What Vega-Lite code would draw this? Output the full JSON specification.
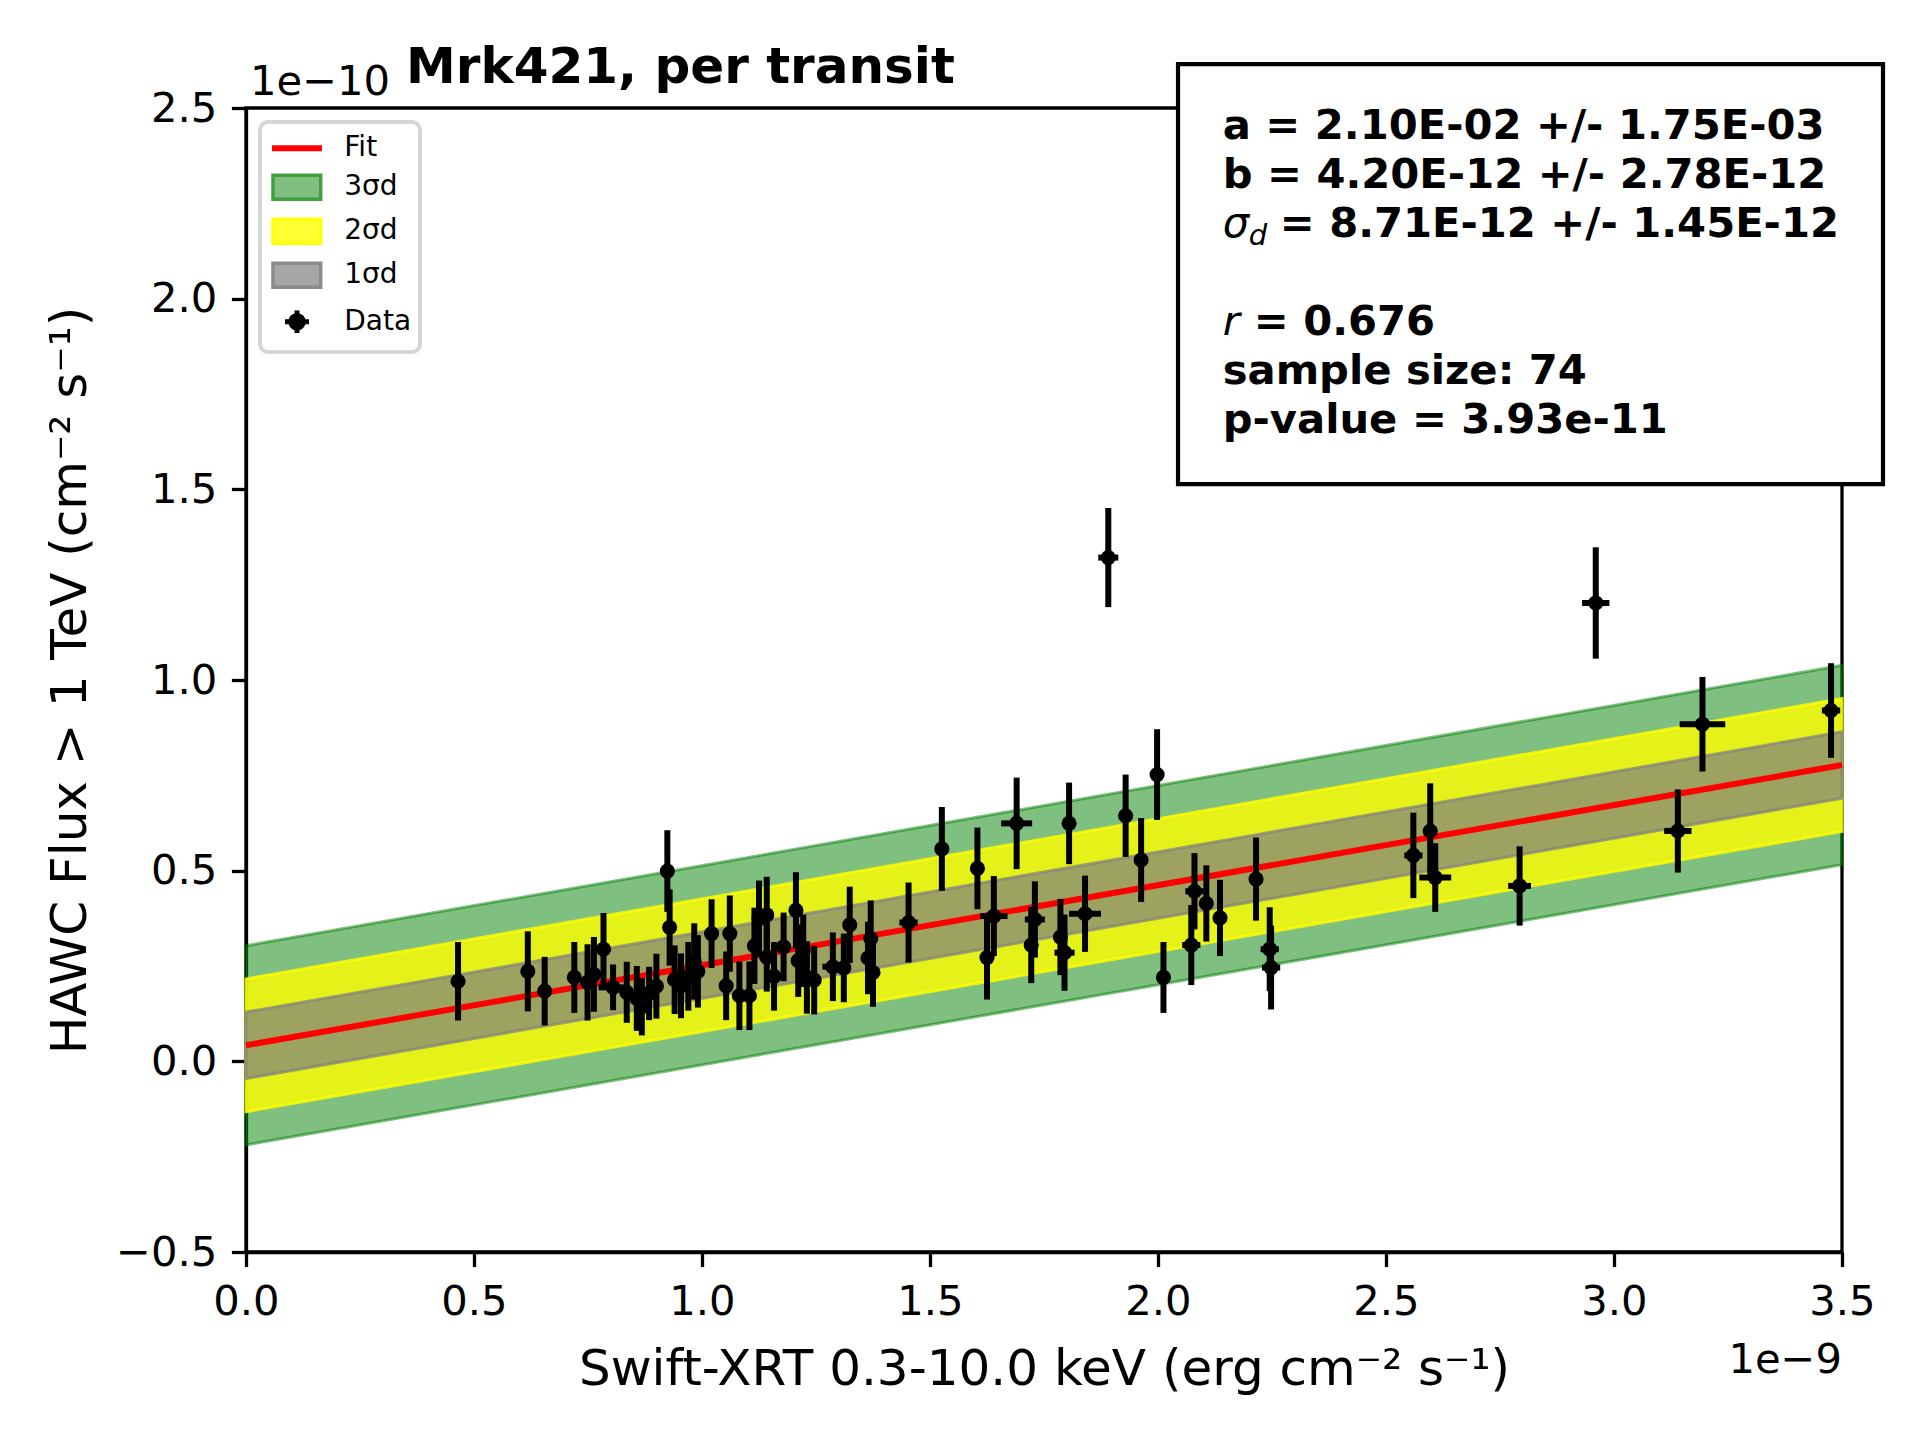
{
  "$schema": "https://vega.github.io/schema/vega-lite/v6.json",
  "width": 1596,
  "height": 1144,
  "autosize": {"type": "none"},
  "padding": {"left": 246, "top": 108, "right": 78, "bottom": 188},
  "background": "white",
  "title": {
    "text": "Mrk421, per transit",
    "anchor": "start",
    "frame": "group",
    "dx": 160,
    "dy": 56,
    "offset": 25,
    "font": "DejaVu Sans",
    "fontSize": 50,
    "fontWeight": "bold",
    "color": "black"
  },
  "datasets": {
    "bands": [
      {"x": 0, "fit": 0.042, "lo1": -0.0451, "hi1": 0.1291, "lo2": -0.1322, "hi2": 0.2162, "lo3": -0.2193, "hi3": 0.3033},
      {"x": 3.5, "fit": 0.777, "lo1": 0.6899, "hi1": 0.8641, "lo2": 0.6028, "hi2": 0.9512, "lo3": 0.5157, "hi3": 1.0383}
    ],
    "points": [
      {"x": 0.465, "y": 0.210, "ex": 0.006, "ey": 0.103},
      {"x": 0.618, "y": 0.236, "ex": 0.006, "ey": 0.105},
      {"x": 0.655, "y": 0.184, "ex": 0.006, "ey": 0.090},
      {"x": 0.720, "y": 0.220, "ex": 0.006, "ey": 0.093},
      {"x": 0.749, "y": 0.207, "ex": 0.008, "ey": 0.100},
      {"x": 0.763, "y": 0.228, "ex": 0.008, "ey": 0.098},
      {"x": 0.784, "y": 0.294, "ex": 0.008, "ey": 0.095},
      {"x": 0.805, "y": 0.194, "ex": 0.032, "ey": 0.060},
      {"x": 0.835, "y": 0.181, "ex": 0.008, "ey": 0.080},
      {"x": 0.857, "y": 0.165, "ex": 0.008, "ey": 0.085},
      {"x": 0.868, "y": 0.143, "ex": 0.008, "ey": 0.075},
      {"x": 0.884, "y": 0.178, "ex": 0.008, "ey": 0.070},
      {"x": 0.900, "y": 0.197, "ex": 0.008, "ey": 0.085},
      {"x": 0.924, "y": 0.499, "ex": 0.008, "ey": 0.107},
      {"x": 0.929, "y": 0.351, "ex": 0.008, "ey": 0.100},
      {"x": 0.940, "y": 0.214, "ex": 0.010, "ey": 0.090},
      {"x": 0.954, "y": 0.198, "ex": 0.010, "ey": 0.085},
      {"x": 0.970, "y": 0.223, "ex": 0.010, "ey": 0.090},
      {"x": 0.983, "y": 0.262, "ex": 0.010, "ey": 0.100},
      {"x": 0.991, "y": 0.236, "ex": 0.010, "ey": 0.095},
      {"x": 1.021, "y": 0.335, "ex": 0.010, "ey": 0.090},
      {"x": 1.053, "y": 0.198, "ex": 0.010, "ey": 0.090},
      {"x": 1.061, "y": 0.335, "ex": 0.010, "ey": 0.100},
      {"x": 1.082, "y": 0.172, "ex": 0.010, "ey": 0.090},
      {"x": 1.104, "y": 0.172, "ex": 0.010, "ey": 0.090},
      {"x": 1.115, "y": 0.303, "ex": 0.010, "ey": 0.100},
      {"x": 1.125, "y": 0.374, "ex": 0.010, "ey": 0.100},
      {"x": 1.142, "y": 0.384, "ex": 0.010, "ey": 0.100},
      {"x": 1.142, "y": 0.273, "ex": 0.010, "ey": 0.090},
      {"x": 1.158, "y": 0.223, "ex": 0.010, "ey": 0.090},
      {"x": 1.179, "y": 0.300, "ex": 0.010, "ey": 0.090},
      {"x": 1.206, "y": 0.396, "ex": 0.012, "ey": 0.100},
      {"x": 1.211, "y": 0.264, "ex": 0.012, "ey": 0.095},
      {"x": 1.222, "y": 0.290, "ex": 0.012, "ey": 0.095},
      {"x": 1.230, "y": 0.220, "ex": 0.012, "ey": 0.095},
      {"x": 1.246, "y": 0.213, "ex": 0.012, "ey": 0.090},
      {"x": 1.287, "y": 0.248, "ex": 0.023, "ey": 0.090},
      {"x": 1.311, "y": 0.245, "ex": 0.012, "ey": 0.090},
      {"x": 1.324, "y": 0.358, "ex": 0.012, "ey": 0.100},
      {"x": 1.364, "y": 0.271, "ex": 0.012, "ey": 0.095},
      {"x": 1.370, "y": 0.322, "ex": 0.012, "ey": 0.100},
      {"x": 1.375, "y": 0.233, "ex": 0.012, "ey": 0.090},
      {"x": 1.453, "y": 0.364, "ex": 0.020, "ey": 0.105},
      {"x": 1.526, "y": 0.557, "ex": 0.012, "ey": 0.110},
      {"x": 1.604, "y": 0.506, "ex": 0.012, "ey": 0.107},
      {"x": 1.625, "y": 0.272, "ex": 0.012, "ey": 0.110},
      {"x": 1.640, "y": 0.381, "ex": 0.030, "ey": 0.105},
      {"x": 1.690, "y": 0.624, "ex": 0.034, "ey": 0.120},
      {"x": 1.722, "y": 0.305, "ex": 0.012, "ey": 0.100},
      {"x": 1.730, "y": 0.372, "ex": 0.022, "ey": 0.100},
      {"x": 1.786, "y": 0.326, "ex": 0.012, "ey": 0.100},
      {"x": 1.795, "y": 0.285, "ex": 0.022, "ey": 0.100},
      {"x": 1.805, "y": 0.624, "ex": 0.012, "ey": 0.107},
      {"x": 1.840, "y": 0.387, "ex": 0.035, "ey": 0.100},
      {"x": 1.891, "y": 1.321, "ex": 0.022, "ey": 0.130},
      {"x": 1.929, "y": 0.644, "ex": 0.012, "ey": 0.108},
      {"x": 1.963, "y": 0.528, "ex": 0.012, "ey": 0.110},
      {"x": 1.998, "y": 0.752, "ex": 0.012, "ey": 0.119},
      {"x": 2.012, "y": 0.220, "ex": 0.012, "ey": 0.093},
      {"x": 2.073, "y": 0.305, "ex": 0.020, "ey": 0.105},
      {"x": 2.080, "y": 0.446, "ex": 0.020, "ey": 0.100},
      {"x": 2.106, "y": 0.414, "ex": 0.012, "ey": 0.100},
      {"x": 2.136, "y": 0.376, "ex": 0.015, "ey": 0.100},
      {"x": 2.215, "y": 0.478, "ex": 0.012, "ey": 0.109},
      {"x": 2.245, "y": 0.294, "ex": 0.020, "ey": 0.110},
      {"x": 2.248, "y": 0.246, "ex": 0.020, "ey": 0.110},
      {"x": 2.560, "y": 0.540, "ex": 0.020, "ey": 0.112},
      {"x": 2.597, "y": 0.604, "ex": 0.012, "ey": 0.125},
      {"x": 2.608, "y": 0.482, "ex": 0.035, "ey": 0.090},
      {"x": 2.793, "y": 0.460, "ex": 0.025, "ey": 0.104},
      {"x": 2.960, "y": 1.202, "ex": 0.030, "ey": 0.146},
      {"x": 3.140, "y": 0.604, "ex": 0.030, "ey": 0.109},
      {"x": 3.194, "y": 0.884, "ex": 0.050, "ey": 0.124},
      {"x": 3.476, "y": 0.920, "ex": 0.020, "ey": 0.124}
    ]
  },
  "data": {"name": "points"},
  "layer": [
    {
      "data": {"name": "bands"},
      "mark": {"type": "area", "fill": "green", "stroke": "green", "strokeWidth": 3, "fillOpacity": 0.5, "strokeOpacity": 0.5},
      "encoding": {
        "x": {
          "field": "x",
          "type": "quantitative",
          "title": "Swift-XRT 0.3-10.0 keV (erg cm⁻² s⁻¹)",
          "scale": {"domain": [0, 3.5], "nice": false, "zero": false},
          "axis": {
            "values": [0, 0.5, 1, 1.5, 2, 2.5, 3, 3.5],
            "format": ".1f",
            "labelFlush": false,
            "titlePadding": 22
          }
        },
        "y": {
          "field": "lo3",
          "type": "quantitative",
          "title": "HAWC Flux > 1 TeV (cm⁻² s⁻¹)",
          "scale": {"domain": [-0.5, 2.5], "nice": false, "zero": false},
          "axis": {
            "values": [-0.5, 0, 0.5, 1, 1.5, 2, 2.5],
            "format": ".1f",
            "labelFlush": false,
            "titlePadding": 20
          }
        },
        "y2": {"field": "hi3"}
      }
    },
    {
      "data": {"name": "bands"},
      "mark": {"type": "area", "fill": "yellow", "stroke": "yellow", "strokeWidth": 3, "fillOpacity": 0.8, "strokeOpacity": 0.8},
      "encoding": {
        "x": {"field": "x", "type": "quantitative", "title": "Swift-XRT 0.3-10.0 keV (erg cm⁻² s⁻¹)"},
        "y": {"field": "lo2", "type": "quantitative", "title": "HAWC Flux > 1 TeV (cm⁻² s⁻¹)"},
        "y2": {"field": "hi2"}
      }
    },
    {
      "data": {"name": "bands"},
      "mark": {"type": "area", "fill": "gray", "stroke": "gray", "strokeWidth": 3, "fillOpacity": 0.7, "strokeOpacity": 0.7},
      "encoding": {
        "x": {"field": "x", "type": "quantitative", "title": "Swift-XRT 0.3-10.0 keV (erg cm⁻² s⁻¹)"},
        "y": {"field": "lo1", "type": "quantitative", "title": "HAWC Flux > 1 TeV (cm⁻² s⁻¹)"},
        "y2": {"field": "hi1"}
      }
    },
    {
      "data": {"name": "bands"},
      "mark": {"type": "line", "color": "red", "strokeWidth": 6},
      "encoding": {
        "x": {"field": "x", "type": "quantitative", "title": "Swift-XRT 0.3-10.0 keV (erg cm⁻² s⁻¹)"},
        "y": {"field": "fit", "type": "quantitative", "title": "HAWC Flux > 1 TeV (cm⁻² s⁻¹)"}
      }
    },
    {
      "mark": {"type": "errorbar", "ticks": false, "thickness": 6, "color": "black"},
      "encoding": {
        "x": {"field": "x", "type": "quantitative", "title": "Swift-XRT 0.3-10.0 keV (erg cm⁻² s⁻¹)"},
        "y": {"field": "y", "type": "quantitative", "title": "HAWC Flux > 1 TeV (cm⁻² s⁻¹)"},
        "yError": {"field": "ey"}
      }
    },
    {
      "mark": {"type": "errorbar", "ticks": false, "thickness": 6, "color": "black"},
      "encoding": {
        "x": {"field": "x", "type": "quantitative", "title": "Swift-XRT 0.3-10.0 keV (erg cm⁻² s⁻¹)"},
        "xError": {"field": "ex"},
        "y": {"field": "y", "type": "quantitative", "title": "HAWC Flux > 1 TeV (cm⁻² s⁻¹)"}
      }
    },
    {
      "mark": {"type": "circle", "size": 230, "opacity": 1, "color": "black"},
      "encoding": {
        "x": {"field": "x", "type": "quantitative", "title": "Swift-XRT 0.3-10.0 keV (erg cm⁻² s⁻¹)"},
        "y": {"field": "y", "type": "quantitative", "title": "HAWC Flux > 1 TeV (cm⁻² s⁻¹)"}
      }
    },
    {
      "data": {"values": []},
      "mark": {"type": "point", "opacity": 1},
      "encoding": {
        "x": {"field": "x", "type": "quantitative", "title": "Swift-XRT 0.3-10.0 keV (erg cm⁻² s⁻¹)"},
        "y": {"field": "y", "type": "quantitative", "title": "HAWC Flux > 1 TeV (cm⁻² s⁻¹)"},
        "fill": {
          "field": "series",
          "type": "nominal",
          "scale": {
            "domain": ["Fit", "3σd", "2σd", "1σd", "Data"],
            "range": ["transparent", "#80bf80", "#ffff33", "#a6a6a6", "black"]
          },
          "legend": {"title": null, "orient": "top-left", "offset": 14}
        },
        "stroke": {
          "field": "series",
          "type": "nominal",
          "scale": {
            "domain": ["Fit", "3σd", "2σd", "1σd", "Data"],
            "range": ["red", "#40a040", "#ffff0a", "#8b8b8b", "black"]
          },
          "legend": {"title": null, "orient": "top-left", "offset": 14}
        },
        "strokeWidth": {
          "field": "series",
          "type": "nominal",
          "scale": {
            "type": "ordinal",
            "domain": ["Fit", "3σd", "2σd", "1σd", "Data"],
            "range": [6, 3.5, 3.5, 3.5, 5]
          },
          "legend": {"title": null, "orient": "top-left", "offset": 14}
        },
        "shape": {
          "field": "series",
          "type": "nominal",
          "scale": {
            "domain": ["Fit", "3σd", "2σd", "1σd", "Data"],
            "range": [
              "M-0.953,0H2.38",
              "M-0.887,-0.8H2.293V0.8H-0.887Z",
              "M-0.887,-0.8H2.293V0.8H-0.887Z",
              "M-0.887,-0.8H2.293V0.8H-0.887Z",
              "M-0.087,0H1.513M0.713,-0.75V0.75M0.293,0A0.42,0.42 0 1,0 1.133,0A0.42,0.42 0 1,0 0.293,0Z"
            ]
          },
          "legend": {"title": null, "orient": "top-left", "offset": 14}
        }
      }
    },
    {
      "data": {"values": [{}]},
      "mark": {"type": "text", "text": "1e−10", "align": "left", "baseline": "alphabetic", "dx": 4, "dy": -13, "fontSize": 41.7, "color": "black"},
      "encoding": {
        "x": {"datum": 0, "type": "quantitative"},
        "y": {"datum": 2.5, "type": "quantitative"}
      }
    },
    {
      "data": {"values": [{}]},
      "mark": {"type": "text", "text": "1e−9", "align": "right", "baseline": "alphabetic", "dy": 121, "fontSize": 41.7, "color": "black"},
      "encoding": {
        "x": {"datum": 3.5, "type": "quantitative"},
        "y": {"datum": -0.5, "type": "quantitative"}
      }
    },
    {
      "data": {"values": [{}]},
      "mark": {"type": "rect", "fill": "white", "stroke": "black", "strokeWidth": 4.2},
      "encoding": {
        "x": {"datum": 2.0439, "type": "quantitative"},
        "x2": {"datum": 3.5899},
        "y": {"datum": 2.6153, "type": "quantitative"},
        "y2": {"datum": 1.5138}
      }
    },
    {
      "data": {"values": [{}]},
      "mark": {"type": "text", "text": "a = 2.10E-02 +/- 1.75E-03", "align": "left", "baseline": "alphabetic", "fontSize": 41.7, "fontWeight": "bold", "color": "black"},
      "encoding": {"x": {"datum": 2.1419, "type": "quantitative"}, "y": {"datum": 2.4186, "type": "quantitative"}}
    },
    {
      "data": {"values": [{}]},
      "mark": {"type": "text", "text": "b = 4.20E-12 +/- 2.78E-12", "align": "left", "baseline": "alphabetic", "fontSize": 41.7, "fontWeight": "bold", "color": "black"},
      "encoding": {"x": {"datum": 2.1419, "type": "quantitative"}, "y": {"datum": 2.2901, "type": "quantitative"}}
    },
    {
      "data": {"values": [{}]},
      "mark": {"type": "text", "text": "σ", "align": "left", "baseline": "alphabetic", "fontSize": 41.7, "fontStyle": "italic", "color": "black"},
      "encoding": {"x": {"datum": 2.1419, "type": "quantitative"}, "y": {"datum": 2.1616, "type": "quantitative"}}
    },
    {
      "data": {"values": [{}]},
      "mark": {"type": "text", "text": "d", "align": "left", "baseline": "alphabetic", "dx": 26, "dy": 8, "fontSize": 29, "fontStyle": "italic", "color": "black"},
      "encoding": {"x": {"datum": 2.1419, "type": "quantitative"}, "y": {"datum": 2.1616, "type": "quantitative"}}
    },
    {
      "data": {"values": [{}]},
      "mark": {"type": "text", "text": "= 8.71E-12 +/- 1.45E-12", "align": "left", "baseline": "alphabetic", "dx": 57, "fontSize": 41.7, "fontWeight": "bold", "color": "black"},
      "encoding": {"x": {"datum": 2.1419, "type": "quantitative"}, "y": {"datum": 2.1616, "type": "quantitative"}}
    },
    {
      "data": {"values": [{}]},
      "mark": {"type": "text", "text": "r", "align": "left", "baseline": "alphabetic", "fontSize": 41.7, "fontStyle": "italic", "color": "black"},
      "encoding": {"x": {"datum": 2.1419, "type": "quantitative"}, "y": {"datum": 1.9046, "type": "quantitative"}}
    },
    {
      "data": {"values": [{}]},
      "mark": {"type": "text", "text": "= 0.676", "align": "left", "baseline": "alphabetic", "dx": 31, "fontSize": 41.7, "fontWeight": "bold", "color": "black"},
      "encoding": {"x": {"datum": 2.1419, "type": "quantitative"}, "y": {"datum": 1.9046, "type": "quantitative"}}
    },
    {
      "data": {"values": [{}]},
      "mark": {"type": "text", "text": "sample size: 74", "align": "left", "baseline": "alphabetic", "fontSize": 41.7, "fontWeight": "bold", "color": "black"},
      "encoding": {"x": {"datum": 2.1419, "type": "quantitative"}, "y": {"datum": 1.7761, "type": "quantitative"}}
    },
    {
      "data": {"values": [{}]},
      "mark": {"type": "text", "text": "p-value = 3.93e-11", "align": "left", "baseline": "alphabetic", "fontSize": 41.7, "fontWeight": "bold", "color": "black"},
      "encoding": {"x": {"datum": 2.1419, "type": "quantitative"}, "y": {"datum": 1.6476, "type": "quantitative"}}
    }
  ],
  "config": {
    "font": "DejaVu Sans",
    "view": {"stroke": "black", "strokeWidth": 3.3},
    "axis": {
      "grid": false,
      "domainColor": "black",
      "domainWidth": 3.3,
      "tickColor": "black",
      "tickWidth": 3.3,
      "tickSize": 14.6,
      "labelFont": "DejaVu Sans",
      "labelFontSize": 41.7,
      "labelColor": "black",
      "labelPadding": 14.6,
      "titleFont": "DejaVu Sans",
      "titleFontSize": 50,
      "titleFontWeight": "normal",
      "titleColor": "black"
    },
    "legend": {
      "padding": 8.3,
      "rowPadding": 6,
      "symbolSize": 900,
      "symbolStrokeWidth": 4,
      "symbolOpacity": 1,
      "labelFont": "DejaVu Sans",
      "labelFontSize": 28,
      "labelColor": "black",
      "labelOffset": 40,
      "strokeColor": "#d6d6d6",
      "strokeWidth": 4,
      "fillColor": "rgba(255,255,255,0.8)",
      "cornerRadius": 8
    }
  }
}
